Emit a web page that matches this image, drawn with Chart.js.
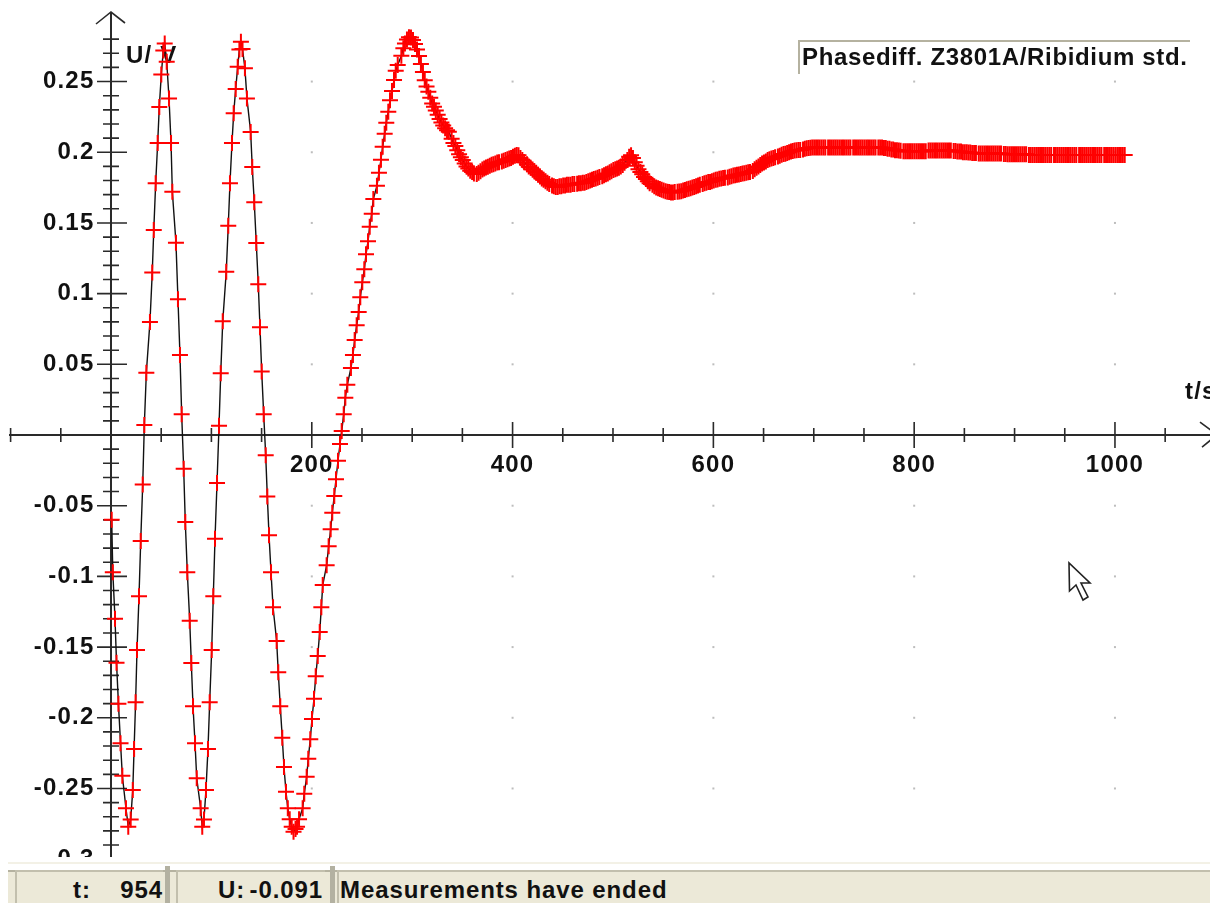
<!DOCTYPE html>
<html>
<head>
<meta charset="utf-8">
<title>Phasediff. Z3801A/Ribidium std.</title>
<script src="https://cdn.jsdelivr.net/npm/chart.js@4/dist/chart.umd.min.js"></script>
<style>
    html, body { margin: 0; padding: 0; background: #fff; overflow: hidden; }
    #wrap { position: relative; width: 1210px; height: 903px; font: bold 24px "Liberation Sans", Arial, sans-serif; color: #111; }
    #plot { position: absolute; left: 0; top: 0; }
    #legendBox { position: absolute; left: 798px; top: 40px; width: 392px; height: 34px; border-top: 2px solid #b5b2a0; border-left: 2px solid #b5b2a0; box-sizing: border-box; }
    #legendBox span { position: absolute; left: 2px; top: 1px; line-height: 28px; white-space: nowrap; letter-spacing: 0.65px; }
    #cover { position: absolute; left: 0; top: 857px; width: 1210px; height: 46px; background: #fff; }
    #cover .edge { position: absolute; left: 8px; right: 0; top: 5px; height: 2px; background: #f3f1e6; }
    #bar { position: absolute; left: 8px; right: 0; top: 13px; bottom: 0; background: #ece9d8; border-top: 2px solid #b5b2a0; box-sizing: border-box; }
    .sep { position: absolute; top: 9px; width: 5px; height: 37px; background: #b3b1a1; }
    .cell { position: absolute; top: 13px; height: 33px; background: #ece9d8; border-top: 2px solid #c2bfad; border-left: 2px solid #c2bfad; box-sizing: border-box; line-height: 36px; white-space: nowrap; letter-spacing: 0.9px; }
    .cell b { position: absolute; top: 0; }
</style>
</head>
<body>
<div id="wrap">
    <canvas id="plot" width="1210" height="903"></canvas>
    <div id="legendBox"><span id="legendText"></span></div>
    <div id="cover">
        <div class="edge"></div>
        <div id="bar"></div>
        <div class="sep" style="left:165px"></div>
        <div class="sep" style="left:330px"></div>
        <div class="cell" style="left:15px;width:148px"><b style="left:56px">t:</b><b style="right:0">954</b></div>
        <div class="cell" style="left:176px;width:149px"><b style="left:40px">U:</b><b style="right:2px">-0.091</b></div>
        <div class="cell" style="left:337px;right:0"><b id="statusText" style="left:1px"></b></div>
    </div>
</div>
<script>
var legendLabel = "Phasediff. Z3801A/Ribidium std.";
var statusLabel = "Measurements have ended";
var xAxisName = "t/s";
var yAxisName = "U/ V";

var xTickLabels = [200, 400, 600, 800, 1000];
var yTickLabels = [0.25, 0.2, 0.15, 0.1, 0.05, -0.05, -0.1, -0.15, -0.2, -0.25, -0.3];

// time of each sample, one row per block of readings
var seriesT = [
    0.7, 1.8, 4, 5.5, 7.4, 9.5, 11.3,
    14.9, 17.2, 19.6, 21.7, 23, 24.5, 25.9, 27.9, 29.6, 31.6, 33.2, 35.2,
    38.8, 41.1, 42.6, 44.5, 46.5, 48.1, 50.1, 52.1, 53.5, 55.5, 57.8, 59.8, 61.1,
    64.7, 66.7, 68.7, 70.4, 72.4, 74, 76, 78.4, 80, 81.7, 83.7, 85.4,
    89.3, 90.9, 92.6, 94.6, 96.6, 98.3, 100.3, 101.9, 103.6, 105.6, 107.6, 109.3, 111.3,
    114.8, 116.8, 118.5, 120.5, 122.2, 124.2, 126.2, 127.9, 129.4, 131, 133.4, 135.4,
    139.1, 140.7, 142.7, 144.7, 146.7, 148.4, 150.1, 152.1, 154.1, 155.7, 157.4, 159.4, 161.4,
    165, 166.6, 168.6, 170.6, 172.3, 174.3, 176.1, 178, 180, 181.8, 183.8, 185.3, 187.3,
    190.9, 192.5, 194.9, 196.5, 198.5, 200.2, 202.2, 203.9, 205.9, 207.9, 209.5, 210.9,
    214.8, 216.8, 218.8, 220.4, 222.4, 224.1, 226.1, 228.1, 229.8, 231.8, 233.4, 235.4,
    239, 241, 242.7, 244.7, 246.7, 248.3, 250.3, 252.3, 254, 256, 257.7, 259.7, 261.3,
    264.9, 266.9, 268.9, 270.6, 272.6, 274.2, 276.2, 277.9, 279.9, 281.9, 283.6, 285.6,
    289.2, 291.2, 292.8, 294.8, 296.8, 298.8, 300.8, 302.8, 304.8, 306.8, 308.7, 310.7, 312.5,
    314.3, 316.1, 318, 319.9, 321.7, 323.5, 325.4, 327.3, 329.1, 330.9, 332.8, 334.7, 336.5,
    339.3, 341.1, 343, 344.9, 346.7, 348.5, 350.4, 352.3, 354.1, 355.9, 357.8, 359.7, 361.5,
    364.3, 366.1, 368, 369.9, 371.7, 373.5, 375.4, 377.3, 379.1, 380.9, 382.8, 384.7, 386.5,
    389.3, 391.1, 393, 394.9, 396.7, 398.5, 400.4, 402.3, 404.1, 405.9, 407.8, 409.7, 411.5,
    414.3, 416.1, 418, 419.9, 421.7, 423.5, 425.4, 427.3, 429.1, 430.9, 432.8, 434.7, 436.5,
    439.3, 441.1, 443, 444.9, 446.7, 448.5, 450.4, 452.3, 454.1, 455.9, 457.8, 459.7, 461.5,
    464.3, 466.1, 468, 469.9, 471.7, 473.5, 475.4, 477.3, 479.1, 480.9, 482.8, 484.7, 486.5,
    489.3, 491.1, 493, 494.9, 496.7, 498.5, 500.4, 502.3, 504.1, 505.9, 507.8, 509.7, 511.5,
    514.3, 516.1, 518, 519.9, 521.7, 523.5, 525.4, 527.3, 529.1, 530.9, 532.8, 534.7, 536.5,
    539.3, 541.1, 543, 544.9, 546.7, 548.5, 550.4, 552.3, 554.1, 555.9, 557.8, 559.7, 561.5,
    564.3, 566.1, 568, 569.9, 571.7, 573.5, 575.4, 577.3, 579.1, 580.9, 582.8, 584.7, 586.5,
    589.3, 591.1, 593, 594.9, 596.7, 598.5, 600.4, 602.3, 604.1, 605.9, 607.8, 609.7, 611.5,
    614.3, 616.1, 618, 619.9, 621.7, 623.5, 625.4, 627.3, 629.1, 630.9, 632.8, 634.7, 636.5,
    639.3, 641.1, 643, 644.9, 646.7, 648.5, 650.4, 652.3, 654.1, 655.9, 657.8, 659.7, 661.5,
    664.3, 666.1, 668, 669.9, 671.7, 673.5, 675.4, 677.3, 679.1, 680.9, 682.8, 684.7, 686.5,
    689.3, 691.1, 693, 694.9, 696.7, 698.5, 700.4, 702.3, 704.1, 705.9, 707.8, 709.7, 711.5,
    714.3, 716.1, 718, 719.9, 721.7, 723.5, 725.4, 727.3, 729.1, 730.9, 732.8, 734.7, 736.5,
    739.3, 741.1, 743, 744.9, 746.7, 748.5, 750.4, 752.3, 754.1, 755.9, 757.8, 759.7, 761.5,
    764.3, 766.1, 768, 769.9, 771.7, 773.5, 775.4, 777.3, 779.1, 780.9, 782.8, 784.7, 786.5,
    789.3, 791.1, 793, 794.9, 796.7, 798.5, 800.4, 802.3, 804.1, 805.9, 807.8, 809.7, 811.5,
    814.3, 816.1, 818, 819.9, 821.7, 823.5, 825.4, 827.3, 829.1, 830.9, 832.8, 834.7, 836.5,
    839.3, 841.1, 843, 844.9, 846.7, 848.5, 850.4, 852.3, 854.1, 855.9, 857.8, 859.7, 861.5,
    864.3, 866.1, 868, 869.9, 871.7, 873.5, 875.4, 877.3, 879.1, 880.9, 882.8, 884.7, 886.5,
    889.3, 891.1, 893, 894.9, 896.7, 898.5, 900.4, 902.3, 904.1, 905.9, 907.8, 909.7, 911.5,
    914.3, 916.1, 918, 919.9, 921.7, 923.5, 925.4, 927.3, 929.1, 930.9, 932.8, 934.7, 936.5,
    939.3, 941.1, 943, 944.9, 946.7, 948.5, 950.4, 952.3, 954.1, 955.9, 957.8, 959.7, 961.5,
    964.3, 966.1, 968, 969.9, 971.7, 973.5, 975.4, 977.3, 979.1, 980.9, 982.8, 984.7, 986.5,
    989.3, 991.1, 993, 994.9, 996.7, 998.5, 1000.4, 1002.3, 1004.1, 1005.9, 1007.8, 1009.7
];

var seriesU = [
    -0.06, -0.097, -0.13, -0.161, -0.19, -0.218, -0.241,
    -0.264, -0.277, -0.272, -0.251, -0.222, -0.189, -0.152, -0.114, -0.075, -0.035, 0.007, 0.044,
    0.08, 0.115, 0.145, 0.178, 0.2065, 0.232, 0.255, 0.272, 0.277, 0.264, 0.238, 0.2065, 0.172,
    0.136, 0.096, 0.0566, 0.0146, -0.0238, -0.0615, -0.097, -0.1313, -0.1612, -0.1919, -0.218, -0.2428,
    -0.264, -0.277, -0.272, -0.251, -0.222, -0.189, -0.152, -0.114, -0.0733, -0.034, 0.0066, 0.0436, 0.0804,
    0.1155, 0.148, 0.178, 0.2065, 0.2275, 0.2447, 0.2605, 0.2727, 0.2781, 0.273, 0.2594, 0.2381,
    0.2143, 0.1895, 0.1646, 0.1358, 0.1066, 0.0762, 0.045, 0.0146, -0.0144, -0.0434, -0.0709, -0.0971, -0.1219,
    -0.1457, -0.1678, -0.1919, -0.2141, -0.2348, -0.2523, -0.264, -0.2718, -0.2771, -0.2806, -0.2786, -0.2771, -0.2718,
    -0.264, -0.2537, -0.2417, -0.2289, -0.2152, -0.2008, -0.1865, -0.1707, -0.1563, -0.1393, -0.1219, -0.1061,
    -0.0921, -0.0787, -0.0667, -0.055, -0.0431, -0.0313, -0.0182, -0.0064, 0.0028, 0.0146, 0.0264, 0.0356,
    0.0474, 0.0566, 0.0672, 0.0776, 0.087, 0.0974, 0.108, 0.1172, 0.1278, 0.137, 0.1473, 0.1565, 0.1669,
    0.1763, 0.1855, 0.1947, 0.2039, 0.2131, 0.2209, 0.2286, 0.2367, 0.2433, 0.2511, 0.2576, 0.2617,
    0.2682, 0.2735, 0.277, 0.2797, 0.2813, 0.2811, 0.2794, 0.2765, 0.2727, 0.268, 0.2624, 0.2567, 0.251,
    0.2465, 0.2428, 0.2385, 0.2345, 0.2322, 0.2295, 0.2265, 0.2235, 0.221, 0.219, 0.217, 0.2155, 0.2145,
    0.2095, 0.2065, 0.2045, 0.2015, 0.1985, 0.1965, 0.1945, 0.192, 0.19, 0.1885, 0.187, 0.186, 0.185,
    0.1846, 0.1855, 0.1865, 0.1878, 0.1885, 0.1892, 0.1898, 0.1905, 0.1912, 0.1915, 0.192, 0.1928, 0.193,
    0.1935, 0.194, 0.1945, 0.195, 0.1955, 0.196, 0.1968, 0.1975, 0.198, 0.1978, 0.196, 0.1945, 0.193,
    0.1915, 0.19, 0.189, 0.1878, 0.1865, 0.1855, 0.184, 0.1828, 0.1815, 0.1805, 0.1795, 0.1785, 0.1775,
    0.1765, 0.176, 0.1755, 0.1755, 0.176, 0.176, 0.1765, 0.1765, 0.177, 0.177, 0.177, 0.1775, 0.1775,
    0.1778, 0.178, 0.178, 0.1785, 0.1785, 0.179, 0.1795, 0.18, 0.1805, 0.181, 0.1815, 0.182, 0.1825,
    0.183, 0.1838, 0.1845, 0.185, 0.1858, 0.1865, 0.1875, 0.188, 0.1885, 0.189, 0.19, 0.191, 0.1925,
    0.1945, 0.1968, 0.1978, 0.196, 0.193, 0.1905, 0.188, 0.186, 0.1845, 0.1825, 0.181, 0.1795, 0.178,
    0.177, 0.176, 0.175, 0.1745, 0.174, 0.1735, 0.173, 0.1725, 0.172, 0.1718, 0.1716, 0.1716, 0.1718,
    0.172, 0.1722, 0.1725, 0.173, 0.1733, 0.1738, 0.1742, 0.1745, 0.175, 0.1755, 0.176, 0.1765, 0.177,
    0.1775, 0.178, 0.1785, 0.179, 0.179, 0.1795, 0.18, 0.1805, 0.1808, 0.1812, 0.1815, 0.1818, 0.182,
    0.1822, 0.1826, 0.183, 0.1835, 0.1838, 0.184, 0.1843, 0.1846, 0.185, 0.1852, 0.1855, 0.1858, 0.186,
    0.1868, 0.188, 0.189, 0.19, 0.191, 0.192, 0.1928, 0.1935, 0.1945, 0.195, 0.1955, 0.196, 0.1965,
    0.197, 0.1975, 0.1982, 0.1987, 0.199, 0.1995, 0.2, 0.2005, 0.2008, 0.2012, 0.2015, 0.2016, 0.2016,
    0.202, 0.2025, 0.2028, 0.203, 0.2032, 0.2033, 0.2033, 0.2033, 0.2033, 0.2033, 0.2033, 0.2033, 0.2033,
    0.2033, 0.2033, 0.2033, 0.2033, 0.2033, 0.2033, 0.2033, 0.2033, 0.2033, 0.2033, 0.2033, 0.2033, 0.2033,
    0.2033, 0.2033, 0.2033, 0.2033, 0.2033, 0.2033, 0.2033, 0.2033, 0.2033, 0.2033, 0.2033, 0.2033, 0.2033,
    0.2033, 0.2033, 0.2033, 0.203, 0.203, 0.2025, 0.2025, 0.202, 0.202, 0.2015, 0.2015, 0.2012, 0.201,
    0.2007, 0.2007, 0.2007, 0.2007, 0.2007, 0.2007, 0.2007, 0.2007, 0.2007, 0.2007, 0.2007, 0.2007, 0.2007,
    0.2012, 0.2012, 0.2012, 0.2012, 0.2012, 0.2012, 0.2012, 0.2012, 0.2012, 0.2012, 0.2012, 0.2012, 0.2012,
    0.2008, 0.2008, 0.2005, 0.2005, 0.2005, 0.2, 0.2, 0.2, 0.1998, 0.1998, 0.1995, 0.1995, 0.1995,
    0.1992, 0.1992, 0.1992, 0.1992, 0.1992, 0.1992, 0.1992, 0.1992, 0.1992, 0.1992, 0.1992, 0.1992, 0.1992,
    0.1988, 0.1988, 0.1985, 0.1985, 0.1985, 0.1985, 0.1985, 0.1985, 0.1985, 0.1985, 0.1985, 0.1985, 0.1985,
    0.198, 0.198, 0.198, 0.198, 0.198, 0.198, 0.198, 0.198, 0.198, 0.198, 0.198, 0.198, 0.198,
    0.198, 0.198, 0.198, 0.198, 0.198, 0.198, 0.198, 0.198, 0.198, 0.198, 0.198, 0.198, 0.198,
    0.198, 0.198, 0.198, 0.198, 0.198, 0.198, 0.198, 0.198, 0.198, 0.198, 0.198, 0.198, 0.198,
    0.198, 0.198, 0.198, 0.198, 0.198, 0.198, 0.198, 0.198, 0.198, 0.198, 0.198, 0.198
];

document.getElementById("legendText").textContent = legendLabel;
document.getElementById("statusText").textContent = statusLabel;

var axisColor = "#2a2a2a";
var labelFont = { family: '"Liberation Sans", Arial, sans-serif', size: 24, weight: "bold" };

function isFifth(v) {
    return Math.abs(v * 20 - Math.round(v * 20)) < 1e-6;
}

// tick labels near the chart edges must not push the plot area in
function noAxisPadding(axis) {
    axis.paddingTop = 0;
    axis.paddingBottom = 0;
    axis.paddingLeft = 0;
    axis.paddingRight = 0;
}

// the program draws its ticks across the axis, the library only draws them on one side
var axisMarks = {
    id: "axisMarks",
    beforeDraw: function(chart) {
        chart.ctx.letterSpacing = "1.2px";
    },
    beforeDatasetsDraw: function(chart) {
        var ctx = chart.ctx;
        var xs = chart.scales.x;
        var ys = chart.scales.y;
        var x0 = xs.getPixelForValue(0);
        var y0 = ys.getPixelForValue(0);
        ctx.save();
        ctx.strokeStyle = axisColor;
        ctx.lineWidth = 2;
        ctx.beginPath();
        ctx.moveTo(x0, chart.chartArea.top);
        ctx.lineTo(x0, chart.chartArea.bottom);
        ctx.moveTo(chart.chartArea.right - 1, y0);
        ctx.lineTo(1212, y0);
        ctx.stroke();

        ctx.lineWidth = 1.6;
        ctx.beginPath();
        ys.ticks.forEach(function(t) {
            var py = ys.getPixelForValue(t.value);
            var major = isFifth(t.value);
            ctx.moveTo(x0 - (major ? 14 : 8), py);
            ctx.lineTo(x0 + (major ? 16 : 8), py);
        });
        xs.ticks.forEach(function(t) {
            var px = xs.getPixelForValue(t.value);
            var major = xTickLabels.indexOf(t.value) >= 0;
            ctx.moveTo(px, y0 - (major ? 13 : 7));
            ctx.lineTo(px, y0 + (major ? 13 : 7));
        });
        // arrow heads
        ctx.moveTo(x0 - 15, 24);
        ctx.lineTo(x0, 12);
        ctx.lineTo(x0 + 14, 23);
        ctx.moveTo(1200, y0 - 13);
        ctx.lineTo(1212, y0 - 4);
        ctx.moveTo(1202, y0 + 12);
        ctx.lineTo(1212, y0 + 4);
        ctx.stroke();

        // faint dots where the grid would cross
        ctx.fillStyle = "#bdbdbd";
        xTickLabels.forEach(function(xv) {
            yTickLabels.forEach(function(yv) {
                ctx.fillRect(xs.getPixelForValue(xv) - 1, ys.getPixelForValue(yv) - 1, 2, 2);
            });
        });

        ctx.fillStyle = "#111";
        ctx.font = "bold 24px " + labelFont.family;
        ctx.textBaseline = "middle";
        ctx.textAlign = "left";
        ctx.fillText(yAxisName, x0 + 15, 56);
        ctx.fillText(xAxisName, 1185, 392);
        ctx.restore();
    },
    afterDraw: function(chart) {
        // mouse pointer left on the screen
        var ctx = chart.ctx;
        ctx.save();
        ctx.fillStyle = "#fff";
        ctx.strokeStyle = "#222";
        ctx.lineWidth = 1.6;
        ctx.beginPath();
        ctx.moveTo(1069, 563);
        ctx.lineTo(1069.5, 591);
        ctx.lineTo(1076, 585);
        ctx.lineTo(1083, 600);
        ctx.lineTo(1088, 597);
        ctx.lineTo(1081, 583);
        ctx.lineTo(1090, 583);
        ctx.closePath();
        ctx.fill();
        ctx.stroke();
        ctx.restore();
    }
};

var points = seriesT.map(function(t, i) {
    return { x: t, y: seriesU[i] };
});

new Chart(document.getElementById("plot"), {
    type: "line",
    plugins: [axisMarks],
    data: {
        datasets: [
            {
                label: legendLabel,
                data: points,
                borderColor: "#111",
                borderWidth: 1.4,
                tension: 0,
                pointStyle: "cross",
                pointRadius: 8,
                pointBorderColor: "#ff0000",
                pointBorderWidth: 2
            }
        ]
    },
    options: {
        responsive: false,
        animation: false,
        layout: { padding: { left: 10, top: 12, right: 0, bottom: 42 } },
        plugins: {
            legend: { display: false },
            title: { display: false },
            tooltip: { enabled: false }
        },
        scales: {
            x: {
                type: "linear",
                position: { y: 0 },
                min: -100.6,
                max: 1084.7,
                grid: { drawOnChartArea: false, drawTicks: false },
                border: { color: axisColor, width: 2 },
                afterFit: noAxisPadding,
                afterBuildTicks: function(axis) {
                    axis.ticks = axis.ticks.filter(function(t) { return t.value >= -100 && t.value <= 1050; });
                },
                ticks: {
                    stepSize: 50,
                    includeBounds: false,
                    autoSkip: false,
                    maxRotation: 0,
                    padding: 16,
                    color: "#111",
                    font: labelFont,
                    callback: function(v) {
                        return xTickLabels.indexOf(v) >= 0 ? String(v) : "";
                    }
                }
            },
            y: {
                type: "linear",
                // labels sit on this line, so it is placed left of the real axis drawn in axisMarks
                position: { x: -16.5 },
                min: -0.3013,
                max: 0.2992,
                grid: { drawOnChartArea: false, drawTicks: false },
                border: { display: false },
                afterFit: noAxisPadding,
                afterBuildTicks: function(axis) {
                    axis.ticks = axis.ticks.filter(function(t) { return t.value >= -0.3001 && t.value <= 0.285; });
                },
                ticks: {
                    stepSize: 0.01,
                    includeBounds: false,
                    autoSkip: false,
                    color: "#111",
                    font: labelFont,
                    callback: function(v) {
                        var r = Math.round(v * 100) / 100;
                        return yTickLabels.indexOf(r) >= 0 ? String(r) : "";
                    }
                }
            }
        }
    }
});
</script>
</body>
</html>
